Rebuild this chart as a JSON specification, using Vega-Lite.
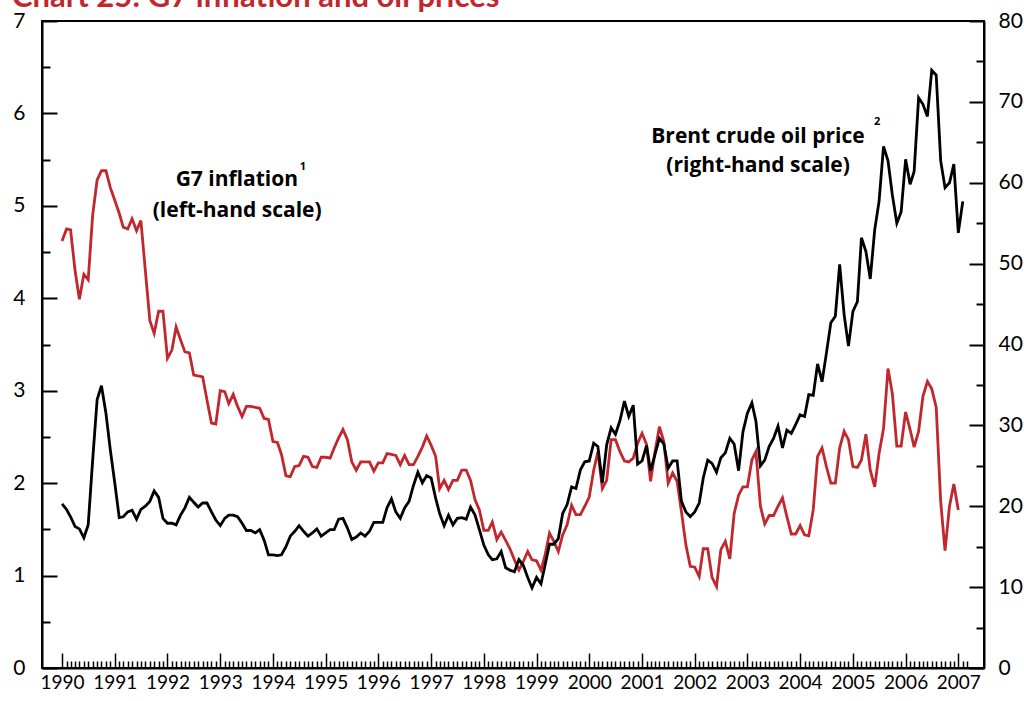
{
  "$schema": "https://vega.github.io/schema/vega-lite/v6.json",
  "width": 942,
  "height": 647,
  "autosize": {"type": "none"},
  "padding": {"left": 42, "top": 21, "right": 40, "bottom": 33},
  "background": "white",
  "title": {"text": "Chart 25: G7 inflation and oil prices", "anchor": "start", "frame": "group", "color": "#C1272D", "font": "Lato", "fontSize": 31, "fontWeight": "bold", "offset": 0, "dx": -30, "dy": 4},
  "config": {"view": {"stroke": "black", "strokeWidth": 2}, "font": "Lato"},
  "datasets": {"series": [
    {"date":"1990-01-01","inflation":4.62,"oil":20.3},{"date":"1990-02-01","inflation":4.75,"oil":19.6},{"date":"1990-03-01","inflation":4.74,"oil":18.7},{"date":"1990-04-01","inflation":4.30,"oil":17.5},{"date":"1990-05-01","inflation":3.99,"oil":17.2},{"date":"1990-06-01","inflation":4.26,"oil":16.1},{"date":"1990-07-01","inflation":4.20,"oil":17.7},{"date":"1990-08-01","inflation":4.90,"oil":25.7},{"date":"1990-09-01","inflation":5.28,"oil":33.2},{"date":"1990-10-01","inflation":5.38,"oil":34.9},{"date":"1990-11-01","inflation":5.38,"oil":31.5},{"date":"1990-12-01","inflation":5.20,"oil":27.0},
    {"date":"1991-01-01","inflation":5.06,"oil":22.9},{"date":"1991-02-01","inflation":4.92,"oil":18.6},{"date":"1991-03-01","inflation":4.77,"oil":18.7},{"date":"1991-04-01","inflation":4.75,"oil":19.3},{"date":"1991-05-01","inflation":4.86,"oil":19.5},{"date":"1991-06-01","inflation":4.73,"oil":18.4},{"date":"1991-07-01","inflation":4.84,"oil":19.6},{"date":"1991-08-01","inflation":4.30,"oil":20.0},{"date":"1991-09-01","inflation":3.76,"oil":20.6},{"date":"1991-10-01","inflation":3.62,"oil":21.9},{"date":"1991-11-01","inflation":3.86,"oil":21.1},{"date":"1991-12-01","inflation":3.86,"oil":18.5},
    {"date":"1992-01-01","inflation":3.35,"oil":17.9},{"date":"1992-02-01","inflation":3.44,"oil":17.9},{"date":"1992-03-01","inflation":3.69,"oil":17.7},{"date":"1992-04-01","inflation":3.55,"oil":18.9},{"date":"1992-05-01","inflation":3.42,"oil":19.8},{"date":"1992-06-01","inflation":3.41,"oil":21.1},{"date":"1992-07-01","inflation":3.17,"oil":20.5},{"date":"1992-08-01","inflation":3.16,"oil":19.9},{"date":"1992-09-01","inflation":3.15,"oil":20.4},{"date":"1992-10-01","inflation":2.90,"oil":20.4},{"date":"1992-11-01","inflation":2.65,"oil":19.3},{"date":"1992-12-01","inflation":2.64,"oil":18.3},
    {"date":"1993-01-01","inflation":3.00,"oil":17.6},{"date":"1993-02-01","inflation":2.99,"oil":18.5},{"date":"1993-03-01","inflation":2.86,"oil":18.9},{"date":"1993-04-01","inflation":2.96,"oil":18.9},{"date":"1993-05-01","inflation":2.83,"oil":18.7},{"date":"1993-06-01","inflation":2.72,"oil":17.9},{"date":"1993-07-01","inflation":2.83,"oil":17.0},{"date":"1993-08-01","inflation":2.83,"oil":17.0},{"date":"1993-09-01","inflation":2.82,"oil":16.7},{"date":"1993-10-01","inflation":2.81,"oil":17.1},{"date":"1993-11-01","inflation":2.70,"oil":15.8},{"date":"1993-12-01","inflation":2.69,"oil":14.0},
    {"date":"1994-01-01","inflation":2.45,"oil":14.0},{"date":"1994-02-01","inflation":2.44,"oil":13.9},{"date":"1994-03-01","inflation":2.31,"oil":14.0},{"date":"1994-04-01","inflation":2.08,"oil":15.0},{"date":"1994-05-01","inflation":2.07,"oil":16.3},{"date":"1994-06-01","inflation":2.18,"oil":16.9},{"date":"1994-07-01","inflation":2.19,"oil":17.6},{"date":"1994-08-01","inflation":2.29,"oil":16.9},{"date":"1994-09-01","inflation":2.28,"oil":16.3},{"date":"1994-10-01","inflation":2.18,"oil":16.7},{"date":"1994-11-01","inflation":2.17,"oil":17.2},{"date":"1994-12-01","inflation":2.28,"oil":16.3},
    {"date":"1995-01-01","inflation":2.28,"oil":16.7},{"date":"1995-02-01","inflation":2.27,"oil":17.1},{"date":"1995-03-01","inflation":2.38,"oil":17.1},{"date":"1995-04-01","inflation":2.49,"oil":18.4},{"date":"1995-05-01","inflation":2.58,"oil":18.5},{"date":"1995-06-01","inflation":2.47,"oil":17.3},{"date":"1995-07-01","inflation":2.23,"oil":15.9},{"date":"1995-08-01","inflation":2.14,"oil":16.2},{"date":"1995-09-01","inflation":2.23,"oil":16.7},{"date":"1995-10-01","inflation":2.23,"oil":16.3},{"date":"1995-11-01","inflation":2.23,"oil":16.9},{"date":"1995-12-01","inflation":2.13,"oil":18.0},
    {"date":"1996-01-01","inflation":2.22,"oil":18.0},{"date":"1996-02-01","inflation":2.22,"oil":18.0},{"date":"1996-03-01","inflation":2.32,"oil":19.8},{"date":"1996-04-01","inflation":2.31,"oil":20.9},{"date":"1996-05-01","inflation":2.30,"oil":19.3},{"date":"1996-06-01","inflation":2.20,"oil":18.5},{"date":"1996-07-01","inflation":2.30,"oil":19.8},{"date":"1996-08-01","inflation":2.20,"oil":20.6},{"date":"1996-09-01","inflation":2.20,"oil":22.6},{"date":"1996-10-01","inflation":2.29,"oil":24.2},{"date":"1996-11-01","inflation":2.39,"oil":22.9},{"date":"1996-12-01","inflation":2.51,"oil":23.8},
    {"date":"1997-01-01","inflation":2.41,"oil":23.5},{"date":"1997-02-01","inflation":2.29,"oil":21.0},{"date":"1997-03-01","inflation":1.94,"oil":19.1},{"date":"1997-04-01","inflation":2.03,"oil":17.6},{"date":"1997-05-01","inflation":1.93,"oil":18.9},{"date":"1997-06-01","inflation":2.03,"oil":17.7},{"date":"1997-07-01","inflation":2.03,"oil":18.5},{"date":"1997-08-01","inflation":2.14,"oil":18.6},{"date":"1997-09-01","inflation":2.14,"oil":18.4},{"date":"1997-10-01","inflation":2.03,"oil":19.9},{"date":"1997-11-01","inflation":1.82,"oil":18.9},{"date":"1997-12-01","inflation":1.71,"oil":17.1},
    {"date":"1998-01-01","inflation":1.49,"oil":15.2},{"date":"1998-02-01","inflation":1.49,"oil":14.0},{"date":"1998-03-01","inflation":1.58,"oil":13.4},{"date":"1998-04-01","inflation":1.39,"oil":13.5},{"date":"1998-05-01","inflation":1.47,"oil":14.4},{"date":"1998-06-01","inflation":1.38,"oil":12.4},{"date":"1998-07-01","inflation":1.29,"oil":12.1},{"date":"1998-08-01","inflation":1.17,"oil":11.9},{"date":"1998-09-01","inflation":1.06,"oil":13.4},{"date":"1998-10-01","inflation":1.15,"oil":12.7},{"date":"1998-11-01","inflation":1.26,"oil":11.2},{"date":"1998-12-01","inflation":1.17,"oil":9.9},
    {"date":"1999-01-01","inflation":1.16,"oil":11.2},{"date":"1999-02-01","inflation":1.06,"oil":10.4},{"date":"1999-03-01","inflation":1.22,"oil":12.7},{"date":"1999-04-01","inflation":1.46,"oil":15.3},{"date":"1999-05-01","inflation":1.37,"oil":15.3},{"date":"1999-06-01","inflation":1.26,"oil":16.0},{"date":"1999-07-01","inflation":1.44,"oil":19.1},{"date":"1999-08-01","inflation":1.55,"oil":20.2},{"date":"1999-09-01","inflation":1.76,"oil":22.4},{"date":"1999-10-01","inflation":1.66,"oil":22.2},{"date":"1999-11-01","inflation":1.66,"oil":24.5},{"date":"1999-12-01","inflation":1.75,"oil":25.5},
    {"date":"2000-01-01","inflation":1.85,"oil":25.6},{"date":"2000-02-01","inflation":2.14,"oil":27.8},{"date":"2000-03-01","inflation":2.34,"oil":27.4},{"date":"2000-04-01","inflation":1.94,"oil":22.9},{"date":"2000-05-01","inflation":2.03,"oil":27.6},{"date":"2000-06-01","inflation":2.47,"oil":29.7},{"date":"2000-07-01","inflation":2.47,"oil":28.9},{"date":"2000-08-01","inflation":2.34,"oil":30.6},{"date":"2000-09-01","inflation":2.24,"oil":33.0},{"date":"2000-10-01","inflation":2.23,"oil":31.1},{"date":"2000-11-01","inflation":2.27,"oil":32.5},{"date":"2000-12-01","inflation":2.43,"oil":25.2},
    {"date":"2001-01-01","inflation":2.54,"oil":25.6},{"date":"2001-02-01","inflation":2.42,"oil":27.5},{"date":"2001-03-01","inflation":2.02,"oil":24.4},{"date":"2001-04-01","inflation":2.34,"oil":26.4},{"date":"2001-05-01","inflation":2.61,"oil":28.4},{"date":"2001-06-01","inflation":2.45,"oil":27.7},{"date":"2001-07-01","inflation":2.00,"oil":24.7},{"date":"2001-08-01","inflation":2.11,"oil":25.6},{"date":"2001-09-01","inflation":2.02,"oil":25.6},{"date":"2001-10-01","inflation":1.69,"oil":20.6},{"date":"2001-11-01","inflation":1.33,"oil":19.3},{"date":"2001-12-01","inflation":1.10,"oil":18.7},
    {"date":"2002-01-01","inflation":1.09,"oil":19.3},{"date":"2002-02-01","inflation":0.99,"oil":20.4},{"date":"2002-03-01","inflation":1.29,"oil":23.5},{"date":"2002-04-01","inflation":1.29,"oil":25.7},{"date":"2002-05-01","inflation":0.98,"oil":25.3},{"date":"2002-06-01","inflation":0.88,"oil":24.2},{"date":"2002-07-01","inflation":1.28,"oil":26.0},{"date":"2002-08-01","inflation":1.37,"oil":26.6},{"date":"2002-09-01","inflation":1.18,"oil":28.4},{"date":"2002-10-01","inflation":1.67,"oil":27.7},{"date":"2002-11-01","inflation":1.87,"oil":24.4},{"date":"2002-12-01","inflation":1.96,"oil":29.2},
    {"date":"2003-01-01","inflation":1.96,"oil":31.5},{"date":"2003-02-01","inflation":2.25,"oil":32.8},{"date":"2003-03-01","inflation":2.34,"oil":30.5},{"date":"2003-04-01","inflation":1.75,"oil":25.0},{"date":"2003-05-01","inflation":1.56,"oil":25.7},{"date":"2003-06-01","inflation":1.65,"oil":27.4},{"date":"2003-07-01","inflation":1.65,"oil":28.4},{"date":"2003-08-01","inflation":1.75,"oil":29.9},{"date":"2003-09-01","inflation":1.84,"oil":27.2},{"date":"2003-10-01","inflation":1.64,"oil":29.4},{"date":"2003-11-01","inflation":1.45,"oil":29.0},{"date":"2003-12-01","inflation":1.45,"oil":30.1},
    {"date":"2004-01-01","inflation":1.54,"oil":31.3},{"date":"2004-02-01","inflation":1.44,"oil":31.1},{"date":"2004-03-01","inflation":1.43,"oil":33.8},{"date":"2004-04-01","inflation":1.71,"oil":33.7},{"date":"2004-05-01","inflation":2.29,"oil":37.6},{"date":"2004-06-01","inflation":2.38,"oil":35.4},{"date":"2004-07-01","inflation":2.18,"oil":38.9},{"date":"2004-08-01","inflation":2.00,"oil":42.7},{"date":"2004-09-01","inflation":2.00,"oil":43.5},{"date":"2004-10-01","inflation":2.38,"oil":49.9},{"date":"2004-11-01","inflation":2.56,"oil":43.7},{"date":"2004-12-01","inflation":2.47,"oil":39.8},
    {"date":"2005-01-01","inflation":2.18,"oil":44.1},{"date":"2005-02-01","inflation":2.17,"oil":45.3},{"date":"2005-03-01","inflation":2.25,"oil":53.2},{"date":"2005-04-01","inflation":2.53,"oil":51.5},{"date":"2005-05-01","inflation":2.14,"oil":48.1},{"date":"2005-06-01","inflation":1.96,"oil":54.2},{"date":"2005-07-01","inflation":2.32,"oil":57.7},{"date":"2005-08-01","inflation":2.59,"oil":64.5},{"date":"2005-09-01","inflation":3.24,"oil":62.7},{"date":"2005-10-01","inflation":2.97,"oil":58.5},{"date":"2005-11-01","inflation":2.40,"oil":55.0},{"date":"2005-12-01","inflation":2.40,"oil":56.4},
    {"date":"2006-01-01","inflation":2.77,"oil":62.9},{"date":"2006-02-01","inflation":2.58,"oil":59.8},{"date":"2006-03-01","inflation":2.39,"oil":61.4},{"date":"2006-04-01","inflation":2.56,"oil":70.5},{"date":"2006-05-01","inflation":2.94,"oil":69.7},{"date":"2006-06-01","inflation":3.10,"oil":68.2},{"date":"2006-07-01","inflation":3.02,"oil":73.9},{"date":"2006-08-01","inflation":2.82,"oil":73.3},{"date":"2006-09-01","inflation":1.80,"oil":62.7},{"date":"2006-10-01","inflation":1.27,"oil":59.4},{"date":"2006-11-01","inflation":1.75,"oil":60.0},{"date":"2006-12-01","inflation":1.99,"oil":62.3},
    {"date":"2007-01-01","inflation":1.71,"oil":53.8},{"date":"2007-02-01","inflation":null,"oil":57.7}
  ]},
  "layer": [
    {"data": {"name": "series"},
      "mark": {"type": "line", "color": "#C1272D", "strokeWidth": 2.8},
      "encoding": {
        "x": {"field": "date", "type": "temporal",
          "scale": {"type": "utc", "domain": [{"year": 1989, "month": 8, "date": 15, "utc": true}, {"year": 2007, "month": 6, "date": 28, "utc": true}]},
          "axis": {"title": null, "grid": false, "tickCount": {"interval": "month", "step": 1},
            "labelExpr": "utcmonth(datum.value) === 0 ? utcFormat(datum.value, '%Y') : ''",
            "tickSize": {"condition": {"test": "utcmonth(datum.value) === 0", "value": -15}, "value": -7},
            "tickOpacity": {"condition": {"test": "datum.value < utc(1990,0,1) || datum.value > utc(2007,2,2)", "value": 0}, "value": 1},
            "tickColor": "black", "tickWidth": 1.5, "domainColor": "black", "domainWidth": 2,
            "labelFont": "Lato", "labelFontSize": 19, "labelColor": "black", "labelPadding": 20,
            "labelFlush": false, "labelOverlap": false}},
        "y": {"field": "inflation", "type": "quantitative",
          "scale": {"domain": [0, 7], "nice": false},
          "axis": {"orient": "left", "title": null, "grid": false,
            "values": [0, 0.5, 1, 1.5, 2, 2.5, 3, 3.5, 4, 4.5, 5, 5.5, 6, 6.5, 7],
            "labelExpr": "datum.value % 1 === 0 ? format(datum.value, 'd') : ''",
            "tickSize": {"condition": {"test": "datum.value % 1 === 0", "value": -15}, "value": -8},
            "tickColor": "black", "tickWidth": 2, "domainColor": "black", "domainWidth": 2,
            "labelFont": "Lato", "labelFontSize": 21, "labelColor": "black", "labelPadding": 32,
            "labelFlush": false, "labelOverlap": false}}}},
    {"data": {"name": "series"},
      "mark": {"type": "line", "color": "black", "strokeWidth": 2.8},
      "encoding": {
        "x": {"field": "date", "type": "temporal"},
        "y": {"field": "oil", "type": "quantitative",
        "scale": {"domain": [0, 80], "nice": false},
        "axis": {"orient": "right", "title": null, "grid": false,
          "values": [0, 5, 10, 15, 20, 25, 30, 35, 40, 45, 50, 55, 60, 65, 70, 75, 80],
          "labelExpr": "datum.value % 10 === 0 ? format(datum.value, 'd') : ''",
          "tickSize": {"condition": {"test": "datum.value % 10 === 0", "value": -15}, "value": -8},
          "tickColor": "black", "tickWidth": 2, "domainColor": "black", "domainWidth": 2,
          "labelFont": "Lato", "labelFontSize": 21, "labelColor": "black", "labelPadding": 29,
          "labelFlush": false, "labelOverlap": false}}}},
    {"data": {"values": [{"label": "G7 inflation"}]},
      "mark": {"type": "text", "font": "Open Sans", "fontWeight": "bold", "fontSize": 21, "align": "center", "baseline": "alphabetic", "color": "black"},
      "encoding": {"x": {"datum": {"year": 1993, "month": 4, "date": 26, "utc": true}, "type": "temporal"}, "y": {"datum": 5.21, "type": "quantitative", "scale": {"domain": [0, 7], "nice": false}, "axis": null}, "text": {"field": "label"}}},
    {"data": {"values": [{"label": "(left-hand scale)"}]},
      "mark": {"type": "text", "font": "Open Sans", "fontWeight": "bold", "fontSize": 21, "align": "center", "baseline": "alphabetic", "color": "black"},
      "encoding": {"x": {"datum": {"year": 1993, "month": 4, "date": 28, "utc": true}, "type": "temporal"}, "y": {"datum": 4.88, "type": "quantitative", "scale": {"domain": [0, 7], "nice": false}, "axis": null}, "text": {"field": "label"}}},
    {"data": {"values": [{"label": "1"}]},
      "mark": {"type": "text", "font": "Open Sans", "fontWeight": "bold", "fontSize": 11, "align": "center", "baseline": "alphabetic", "color": "black"},
      "encoding": {"x": {"datum": {"year": 1994, "month": 7, "date": 28, "utc": true}, "type": "temporal"}, "y": {"datum": 5.39, "type": "quantitative", "scale": {"domain": [0, 7], "nice": false}, "axis": null}, "text": {"field": "label"}}},
    {"data": {"values": [{"label": "Brent crude oil price"}]},
      "mark": {"type": "text", "font": "Open Sans", "fontWeight": "bold", "fontSize": 21, "align": "center", "baseline": "alphabetic", "color": "black"},
      "encoding": {"x": {"datum": {"year": 2003, "month": 3, "date": 15, "utc": true}, "type": "temporal"}, "y": {"datum": 5.68, "type": "quantitative", "scale": {"domain": [0, 7], "nice": false}, "axis": null}, "text": {"field": "label"}}},
    {"data": {"values": [{"label": "(right-hand scale)"}]},
      "mark": {"type": "text", "font": "Open Sans", "fontWeight": "bold", "fontSize": 21, "align": "center", "baseline": "alphabetic", "color": "black"},
      "encoding": {"x": {"datum": {"year": 2003, "month": 3, "date": 16, "utc": true}, "type": "temporal"}, "y": {"datum": 5.37, "type": "quantitative", "scale": {"domain": [0, 7], "nice": false}, "axis": null}, "text": {"field": "label"}}},
    {"data": {"values": [{"label": "2"}]},
      "mark": {"type": "text", "font": "Open Sans", "fontWeight": "bold", "fontSize": 11, "align": "center", "baseline": "alphabetic", "color": "black"},
      "encoding": {"x": {"datum": {"year": 2005, "month": 6, "date": 18, "utc": true}, "type": "temporal"}, "y": {"datum": 5.88, "type": "quantitative", "scale": {"domain": [0, 7], "nice": false}, "axis": null}, "text": {"field": "label"}}}
  ],
  "resolve": {"scale": {"y": "independent"}}
}
